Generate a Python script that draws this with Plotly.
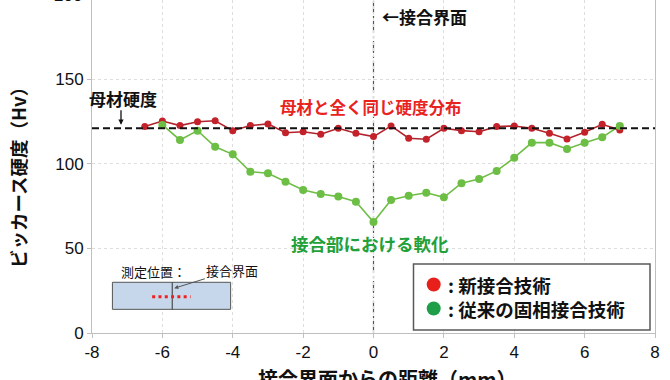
import plotly.graph_objects as go

# ---- data ----
dist_new = [-6.5, -6.0, -5.5, -5.0, -4.5, -4.0, -3.5, -3.0, -2.5, -2.0, -1.5, -1.0, -0.5, 0.0,
            0.5, 1.0, 1.5, 2.0, 2.5, 3.0, 3.5, 4.0, 4.5, 5.0, 5.5, 6.0, 6.5, 7.0]
hv_new = [122.1, 125.4, 122.7, 125.0, 125.6, 119.7, 122.7, 123.7, 118.5, 119.1, 117.6, 121.1, 118.2, 116.2,
          122.5, 115.2, 114.6, 121.1, 119.7, 119.1, 122.1, 122.5, 121.1, 118.2, 114.8, 118.8, 123.5, 120.1]

dist_conv = [-6.0, -5.5, -5.0, -4.5, -4.0, -3.5, -3.0, -2.5, -2.0, -1.5, -1.0, -0.5, 0.0,
             0.5, 1.0, 1.5, 2.0, 2.5, 3.0, 3.5, 4.0, 4.5, 5.0, 5.5, 6.0, 6.5, 7.0]
hv_conv = [123.1, 114.2, 119.7, 110.2, 105.7, 95.4, 94.5, 89.5, 84.6, 82.2, 80.7, 77.7, 65.7,
           78.7, 81.2, 83.0, 80.3, 88.6, 91.1, 95.9, 103.7, 112.6, 112.6, 108.9, 112.6, 115.8, 122.5]

base_hv = 121.2
interface_x = 0.0

x_ticks = [-8, -6, -4, -2, 0, 2, 4, 6, 8]
y_ticks = [0, 50, 100, 150]

name_new = "新接合技術"
name_conv = "従来の固相接合技術"

JP = "Noto Sans CJK JP"
NUM = "Liberation Sans"

# plot-area geometry in page pixels
L, R, T, B = 92, 15, 0, 47
W, H = 670, 380
PW, PH = W - L - R, H - T - B


def px(xp):
    return (xp - L) / PW


def py(yp):
    return 1 - (yp - T) / PH


fig = go.Figure()

fig.add_trace(go.Scatter(
    x=dist_new, y=hv_new, mode="lines+markers", name=name_new, showlegend=False,
    line=dict(color="#b2222a", width=1.6),
    marker=dict(color="#c4222b", size=7)))
fig.add_trace(go.Scatter(
    x=dist_conv, y=hv_conv, mode="lines+markers", name=name_conv, showlegend=False,
    line=dict(color="#6ebe46", width=1.6),
    marker=dict(color="#6cbe44", size=8)))

key_y = [284.5, 308.5]
key_colors = ["#e8201c", "#1e9e48"]

shapes = [
    # base-material hardness
    dict(type="line", xref="paper", x0=0, x1=1, yref="y", y0=base_hv, y1=base_hv,
         line=dict(color="#111111", width=2, dash="7px,4px"), layer="above"),
    # interface line
    dict(type="line", xref="x", x0=interface_x, x1=interface_x, yref="paper", y0=0, y1=1,
         line=dict(color="#555555", width=1.2, dash="12px,3px,2px,3px"), layer="below"),
    # inset specimen
    dict(type="rect", xref="x", yref="y", x0=-7.42, x1=-4.06, y0=14.0, y1=30.0,
         fillcolor="#c6d6eb", line=dict(color="#555555", width=1), layer="above"),
    dict(type="line", xref="x", yref="y", x0=-5.72, x1=-5.72, y0=14.0, y1=30.0,
         line=dict(color="#333333", width=1), layer="above"),
    dict(type="line", xref="x", yref="y", x0=-6.29, x1=-5.20, y0=21.5, y1=21.5,
         line=dict(color="#ee2020", width=3, dash="3px,3.3px"), layer="above"),
    # legend frame
    dict(type="rect", xref="paper", yref="paper", x0=px(413.5), x1=px(650), y0=py(330), y1=py(264),
         fillcolor="white", line=dict(color="#595959", width=1.5), layer="above"),
]
for col, yk in zip(key_colors, key_y):
    shapes.append(dict(type="circle", xref="paper", yref="paper",
                       xsizemode="pixel", ysizemode="pixel",
                       xanchor=px(433.7), yanchor=py(yk), x0=-7, x1=7, y0=-7, y1=7,
                       fillcolor=col, line=dict(color=col, width=0), layer="above"))

annotations = [
    dict(text="<b>←接合界面</b>", xref="x", x=interface_x, xshift=6, xanchor="left",
         yref="paper", y=py(16), yanchor="middle", showarrow=False,
         font=dict(family=JP, size=17, color="#111111")),
    dict(text="<b>母材硬度</b>", xref="paper", x=px(123), xanchor="center",
         yref="paper", y=py(98), yanchor="middle", showarrow=False,
         font=dict(family=JP, size=17, color="#111111")),
    dict(text="", xref="paper", x=px(121), yref="y", y=base_hv + 2,
         showarrow=True, ax=0, ay=-16, arrowhead=2, arrowsize=0.8, arrowwidth=1.3,
         arrowcolor="#111111"),
    dict(text="<b>母材と全く同じ硬度分布</b>", xref="paper", x=px(371), xanchor="center",
         yref="paper", y=py(107), yanchor="middle", showarrow=False,
         font=dict(family=JP, size=16.5, color="#e8231e")),
    dict(text="<b>接合部における軟化</b>", xref="paper", x=px(370), xanchor="center",
         yref="paper", y=py(243), yanchor="middle", showarrow=False,
         font=dict(family=JP, size=17.5, color="#22a03a")),
    dict(text="測定位置：", xref="paper", x=px(119), xanchor="left",
         yref="paper", y=py(271), yanchor="middle", showarrow=False,
         font=dict(family=JP, size=13, color="#111111")),
    dict(text="接合界面", xref="x", x=-5.66, yref="y", y=26.5,
         showarrow=True, ax=58, ay=-18, arrowhead=2, arrowsize=0.8, arrowwidth=1,
         arrowcolor="#555555", font=dict(family=JP, size=13, color="#111111")),
    dict(text="200", xref="paper", x=0, xshift=-8, xanchor="right",
         yref="paper", y=py(-5), yanchor="middle", showarrow=False,
         font=dict(family=NUM, size=17, color="#111111")),
    dict(text="<b>ビッカース硬度（Hv）</b>", xref="paper", x=0, xshift=-74, xanchor="center",
         yref="paper", y=py(173), yanchor="middle", textangle=-90, showarrow=False,
         font=dict(family=JP, size=18.5, color="#111111")),
    dict(text="<b>接合界面からの距離（mm）</b>", xref="paper", x=px(387), xanchor="center",
         yref="paper", y=0, yshift=-29, yanchor="top", showarrow=False,
         font=dict(family=JP, size=20, color="#111111")),
    # legend text (two lines, one block)
    dict(text="<b>: " + name_new + "</b><br><b>: " + name_conv + "</b>",
         xref="paper", x=px(446), xanchor="left", align="left",
         yref="paper", y=py((key_y[0] + key_y[1]) / 2), yanchor="middle", showarrow=False,
         font=dict(family=JP, size=18.5, color="#111111")),
]

fig.update_layout(
    width=W, height=H,
    margin=dict(l=L, r=R, t=T, b=B),
    plot_bgcolor="white", paper_bgcolor="white",
    shapes=shapes, annotations=annotations, showlegend=False,
)

axis_common = dict(
    showline=True, linecolor="#bfbfbf", linewidth=1,
    ticks="outside", ticklen=4, tickcolor="#bfbfbf",
    showgrid=True, gridcolor="#dddddd", gridwidth=1, griddash="3px,3px",
    zeroline=False, tickfont=dict(family=NUM, size=17, color="#111111"),
)
fig.update_xaxes(range=[-8, 8], tickvals=x_ticks, ticktext=[str(v) for v in x_ticks], **axis_common)
fig.update_yaxes(range=[0, 197.0], tickvals=y_ticks, ticktext=[str(v) for v in y_ticks],
                 mirror=True, **axis_common)

fig.write_html("out.html", config={"displayModeBar": False},
               post_script="document.body.style.margin='0';")
